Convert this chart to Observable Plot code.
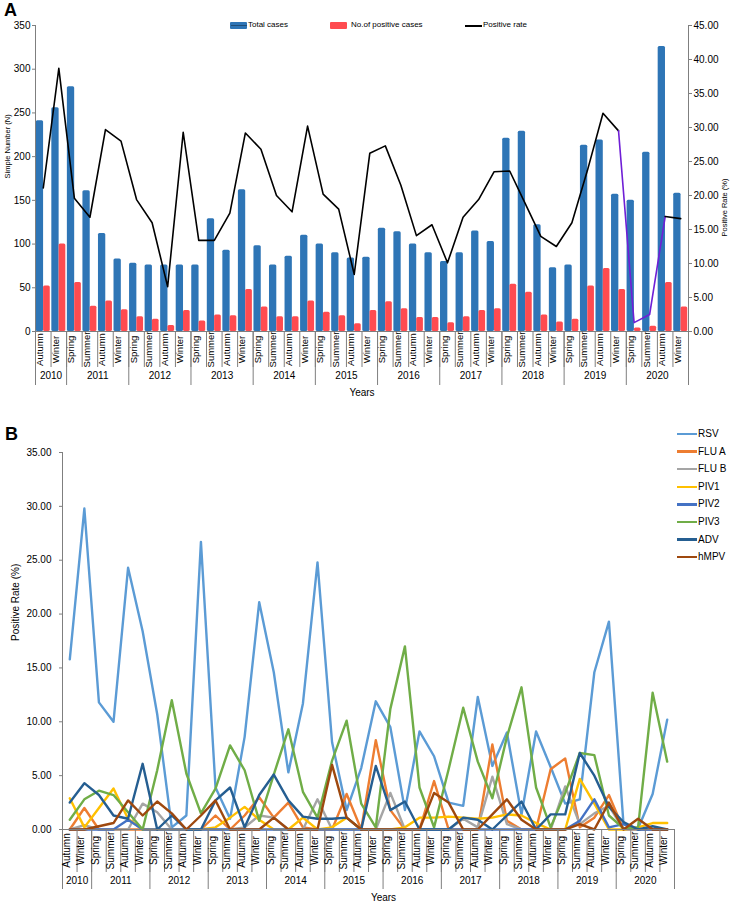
<!DOCTYPE html>
<html><head><meta charset="utf-8">
<script src="https://cdn.jsdelivr.net/npm/d3@7"></script>
<script src="https://cdn.jsdelivr.net/npm/@observablehq/plot@0.6"></script>
<style>
body{margin:0;background:#fff;font-family:"Liberation Sans",Arial,sans-serif;}
#wrap{position:relative;width:732px;height:906px;overflow:hidden;background:#fff;}
#wrap svg{position:absolute;left:0;overflow:visible;}
.abs{position:absolute;white-space:nowrap;}
</style></head><body><div id="wrap"></div>
<script>
// ---------- categories ----------
const seasons = ["Autumn","Winter",
  "Spring","Summer","Autumn","Winter",
  "Spring","Summer","Autumn","Winter",
  "Spring","Summer","Autumn","Winter",
  "Spring","Summer","Autumn","Winter",
  "Spring","Summer","Autumn","Winter",
  "Spring","Summer","Autumn","Winter",
  "Spring","Summer","Autumn","Winter",
  "Spring","Summer","Autumn","Winter",
  "Spring","Summer","Autumn","Winter",
  "Spring","Summer","Autumn","Winter"];
const years = ["2010","2011","2012","2013","2014","2015","2016","2017","2018","2019","2020"];
const seasonsPerYear = [2,4,4,4,4,4,4,4,4,4,4];

// ---------- panel A ----------
const totalCases = [241,256,280,161,112,83,78,76,76,76,76,129,93,162,98,76,86,110,100,90,84,85,
  118,114,100,90,80,90,115,103,221,229,122,73,76,213,219,157,150,205,326,158];
const positiveCases = [52,100,56,29,35,25,17,14,7,24,12,19,18,48,28,17,17,35,22,18,9,24,
  34,26,16,16,10,17,24,26,54,45,19,11,14,52,72,48,4,6,56,28];
const positiveRate = [21.1,38.7,19.6,16.8,29.7,28.0,19.4,16.0,6.6,29.3,13.4,13.4,17.4,29.2,26.8,20.0,17.6,30.2,20.2,18.0,8.4,26.2,
  27.3,21.5,14.1,15.7,10.1,16.8,19.4,23.5,23.6,18.8,14.0,12.5,16.0,23.7,32.1,29.5,1.3,2.5,16.9,16.6];
const legendA = ["Total cases","No.of positive cases","Positive rate"];
const purpleFrom = 37, purpleTo = 40; // Winter 2019 -> Autumn 2020 segment

// ---------- panel B ----------
const seriesNames = ["RSV","FLU A","FLU B","PIV1","PIV2","PIV3","ADV","hMPV"];
const seriesColors = ["#5B9BD5","#ED7D31","#A5A5A5","#FFC000","#4472C4","#70AD47","#255E91","#9E480E"];
const rsv  = [15.8,29.8,11.8,10.0,24.3,18.4,10.7,0.2,1.3,26.7,3.9,1.0,8.6,21.1,14.6,5.3,11.7,24.8,8.1,1.8,5.7,11.9,
  9.5,1.8,9.1,6.8,2.5,2.2,12.3,5.9,9.0,1.4,9.1,5.8,2.4,2.8,14.6,19.3,0.5,0.1,3.3,10.2];
const fluA = [0,2.0,0,0,0,0,0,0,0,0,1.3,0,1.3,3.0,1.1,2.5,0.2,0,0,3.3,0,8.3,
  1.8,0,0,4.5,0,0,0,7.9,0.8,0,0,5.6,6.6,0.2,1.1,3.2,0,0,0,0];
const fluB = [0,0.4,0,0,0,2.4,1.6,0,0,0,0,0,0.2,1.3,1.1,0,0,2.8,0,0,0,0,
  3.4,0,0,0,0,1.0,0.2,4.9,0.5,0,0,0,4.0,0.5,1.5,2.2,0,0,0,0];
const piv1 = [2.9,0.2,2.0,3.8,1.0,0,0,0,0,0,0.2,1.1,2.1,0.9,0,0,1.1,0,0.2,1.1,0,0,
  0,0.2,1.1,1.1,1.2,1.1,1.0,1.1,1.4,1.3,0.6,0,0,4.7,2.4,0,0,0.2,0.6,0.6];
const piv2 = [0,0,0,0,0.9,0,0,0,0,0,0,0,0,0,0,0,0,0,0,0,0,0,
  0,0,0,0,0,0,0,0,0,0,0,0,0,0.8,2.8,0.2,0.5,0,0,0];
const piv3 = [0.9,2.8,3.6,3.2,1.6,0,5.5,12.0,5.2,1.5,3.8,7.8,5.5,0.8,5.1,9.3,3.5,1.1,6.4,10.1,2.4,0.2,
  11.2,17.0,3.9,0.2,5.6,11.3,6.3,2.9,8.6,13.2,3.9,0.2,3.4,7.1,6.9,1.3,0.1,0.2,12.7,6.3];
const adv  = [2.5,4.3,3.2,1.3,1.0,6.1,0,1.3,0,0,2.7,3.9,0.2,3.2,5.1,2.7,1.2,1.0,1.0,1.1,0,5.9,
  1.8,2.6,0,0,0,1.1,0.9,0,1.3,2.6,0,1.4,1.4,7.1,5.0,2.1,0.7,0,0.3,0];
const hmpv = [0,0,0.3,0.6,2.7,1.3,2.6,1.5,0,1.3,2.7,0,0,0,1.1,0,0,0,6.0,1.1,0,0,
  0,0,0,3.4,2.5,0,0,1.4,2.8,0.9,0,0,0,0.5,0,2.5,0,1.0,0,0];
const seriesValues = [rsv,fluA,fluB,piv1,piv2,piv3,adv,hmpv];

// ---------- derived tables ----------
const n = seasons.length;
const A = seasons.map((s,i)=>({i, season:s, total:totalCases[i], pos:positiveCases[i], rate:positiveRate[i]}));
let acc = 0;
const yearInfo = years.map((y,j)=>{const s=acc; acc+=seasonsPerYear[j]; return {year:y, start:s-0.5, end:acc-0.5, mid:(s+acc-1)/2};});
const seasonBounds = d3.range(n+1).map(i=>i-0.5);
const yearBounds = [-0.5, ...yearInfo.map(d=>d.end)];
const B = [];
seriesNames.forEach((name,si)=>seriesValues[si].forEach((v,i)=>B.push({series:name, i, value:v})));

const font = '"Liberation Sans", Arial, sans-serif';
const axisGray = "#7f7f7f";
const k = 350/45;
const wrap = document.getElementById("wrap");

// ---------- Panel A ----------
const plotA = Plot.plot({
  width: 732, height: 410,
  marginLeft: 35, marginRight: 44, marginTop: 25, marginBottom: 79,
  style: {fontFamily: font, fontSize: "10px", color: "#000", background: "transparent"},
  x: {domain: [-0.5, n - 0.5]},
  y: {domain: [0, 350]},
  marks: [
    Plot.rect(A, {x1: d => d.i - 0.45, x2: d => d.i + 0.02, y1: () => 0, y2: "total", fill: "#2E75B6", rx: 1.5}),
    Plot.rect(A, {x1: d => d.i + 0.02, x2: d => d.i + 0.45, y1: () => 0, y2: "pos", fill: "#FF4B50", rx: 1.5}),
    Plot.line(A.filter(d => d.i <= purpleFrom), {x: "i", y: d => d.rate * k, stroke: "#000", strokeWidth: 1.6}),
    Plot.line(A.filter(d => d.i >= purpleFrom && d.i <= purpleTo), {x: "i", y: d => d.rate * k, stroke: "#6F1FD6", strokeWidth: 1.6}),
    Plot.line(A.filter(d => d.i >= purpleTo), {x: "i", y: d => d.rate * k, stroke: "#000", strokeWidth: 1.6}),
    Plot.ruleY([0], {stroke: axisGray}),
    Plot.ruleX([-0.5, n - 0.5], {stroke: axisGray}),
    Plot.axisY({anchor: "left", ticks: d3.range(0, 351, 50), tickSize: 3, tickPadding: 2, label: null, stroke: axisGray}),
    Plot.axisY({anchor: "right", ticks: d3.range(0, 46, 5).map(v => v * k), tickFormat: v => (v / k).toFixed(2), tickSize: 3, tickPadding: 2, label: null, stroke: axisGray}),
    Plot.axisX({ticks: seasonBounds, tickSize: 36, tickFormat: () => "", label: null, stroke: axisGray}),
    Plot.axisX({ticks: yearBounds, tickSize: 54, tickFormat: () => "", label: null, stroke: axisGray}),
    Plot.text(A, {x: "i", text: "season", frameAnchor: "bottom", dy: 18, rotate: -90, fontSize: 9.5}),
    Plot.text(yearInfo, {x: "mid", text: "year", frameAnchor: "bottom", dy: 47}),
    Plot.text(["Years"], {text: d => d, frameAnchor: "bottom", dy: 64}),
    Plot.text(["Simple Number (N)"], {text: d => d, frameAnchor: "left", dx: -28, rotate: -90, fontSize: 7.5}),
    Plot.text(["Positive Rate (%)"], {text: d => d, frameAnchor: "right", dx: 36, rotate: -90, fontSize: 7.5})
  ]
});
plotA.style.top = "0px";
wrap.appendChild(plotA);

// ---------- Panel B ----------
const plotB = Plot.plot({
  width: 732, height: 496,
  marginLeft: 62, marginRight: 58, marginTop: 42, marginBottom: 77,
  style: {fontFamily: font, fontSize: "10px", color: "#000", background: "transparent"},
  x: {domain: [-0.5, n - 0.5]},
  y: {domain: [0, 35]},
  color: {domain: seriesNames, range: seriesColors},
  marks: [
    Plot.line(B, {x: "i", y: "value", z: "series", stroke: "series", strokeWidth: 2.4, strokeLinejoin: "round"}),
    Plot.ruleY([0], {stroke: axisGray}),
    Plot.ruleX([-0.5], {stroke: axisGray}),
    Plot.axisY({anchor: "left", ticks: d3.range(0, 36, 5), tickFormat: v => v.toFixed(2), tickSize: 3, tickPadding: 8, label: null, stroke: axisGray}),
    Plot.axisX({ticks: seasonBounds, tickSize: 43, tickFormat: () => "", label: null, stroke: axisGray}),
    Plot.axisX({ticks: yearBounds, tickSize: 60, tickFormat: () => "", label: null, stroke: axisGray}),
    Plot.text(A, {x: "i", text: "season", frameAnchor: "bottom", dy: 21, rotate: -90, fontSize: 10}),
    Plot.text(yearInfo, {x: "mid", text: "year", frameAnchor: "bottom", dy: 54}),
    Plot.text(["Years"], {text: d => d, frameAnchor: "bottom", dy: 71, dx: 15}),
    Plot.text(["Positive Rate (%)"], {text: d => d, frameAnchor: "left", dx: -47, rotate: -90, fontSize: 10})
  ]
});
plotB.style.top = "410px";
wrap.appendChild(plotB);

// ---------- labels & legends ----------
function div(html, css){const e=document.createElement("div");e.className="abs";e.style.cssText=css;e.innerHTML=html;wrap.appendChild(e);return e;}
div("A","left:4px;top:1px;font-size:18px;font-weight:bold;line-height:18px;");
div("B","left:5px;top:425px;font-size:18px;font-weight:bold;line-height:18px;");

// legend A
div("","left:230px;top:22px;width:17px;height:7px;background:#2E75B6;border-radius:1px;");
div("","left:231px;top:25px;width:16px;height:1px;background:#1F4E79;");
div(legendA[0],"left:248px;top:20px;font-size:8px;line-height:10px;");
div("","left:330px;top:22px;width:17px;height:7px;background:#FF4B50;border-radius:1px;");
div(legendA[1],"left:351px;top:20px;font-size:8px;line-height:10px;");
div("","left:465px;top:25px;width:17px;height:1.6px;background:#000;");
div(legendA[2],"left:483px;top:20px;font-size:8px;line-height:10px;");

// legend B
seriesNames.forEach((name,j)=>{
  const y = 434 + j*17.6;
  div("",`left:677px;top:${y-1.2}px;width:20px;height:2.4px;background:${seriesColors[j]};`);
  div(name,`left:698px;top:${y-6}px;font-size:10px;line-height:12px;`);
});
</script></body></html>
